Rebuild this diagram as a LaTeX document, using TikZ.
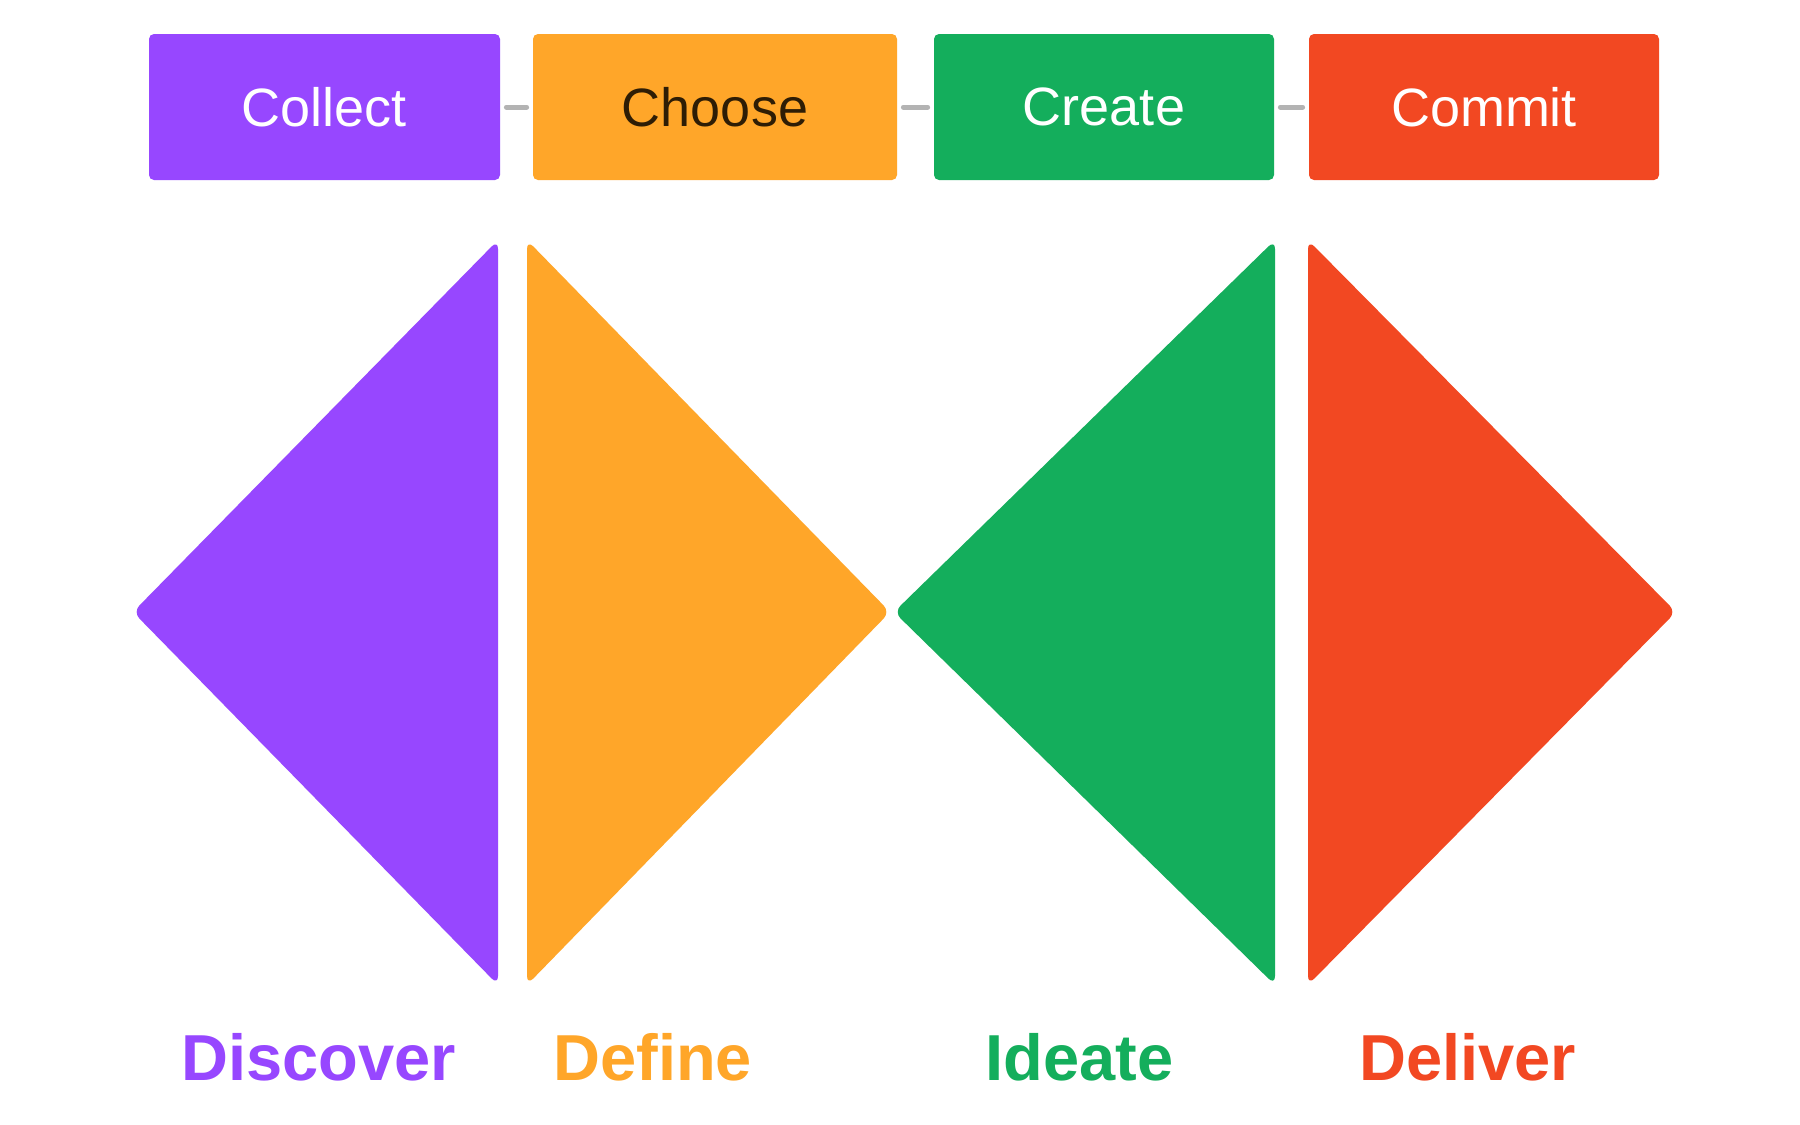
\documentclass[tikz,border=0pt]{standalone}
\usepackage{fontspec}
\setmainfont{Liberation Sans}
\definecolor{cpurple}{HTML}{9747FF}
\definecolor{corange}{HTML}{FFA629}
\definecolor{cgreen}{HTML}{14AE5C}
\definecolor{cred}{HTML}{F24822}
\definecolor{cbrown}{HTML}{2E1D05}
\definecolor{cgray}{HTML}{B3B3B3}
\begin{document}
\begin{tikzpicture}[x=0.5pt,y=-0.5pt,
  phasebox/.style={rectangle, rounded corners=2.5pt, minimum height=73pt, inner sep=0pt,
    font=\fontsize{27}{32}\selectfont},
  link/.style={draw=cgray, line width=2.5pt, line cap=round, shorten <=3pt, shorten >=3pt},
  tri/.style={rounded corners=4.5pt},
  stage/.style={anchor=base west, inner sep=0pt, font=\fontsize{32.5}{39}\selectfont\bfseries}]
\useasboundingbox (0,0) rectangle (1800,1125);
\fill[white] (0,0) rectangle (1800,1125);
% top boxes
\node[phasebox, fill=cpurple, text=white, minimum width=175.5pt] (collect) at (324.5,107) {Collect};
\node[phasebox, fill=corange, text=cbrown, minimum width=182pt] (choose) at (715,107) {Choose};
\node[phasebox, fill=cgreen, text=white, minimum width=170pt] (create) at (1104,107) {Create};
\node[phasebox, fill=cred, text=white, minimum width=175pt] (commit) at (1484,107) {Commit};
\draw[link] (collect.east) -- (choose.west);
\draw[link] (choose.east) -- (create.west);
\draw[link] (create.east) -- (commit.west);
% triangles
\fill[cpurple, tri] (133,612) -- (498,240) -- (498,985) -- cycle;
\fill[corange, tri] (527,240) -- (890,612) -- (527,985) -- cycle;
\fill[cgreen, tri] (894,612) -- (1275,240) -- (1275,985) -- cycle;
\fill[cred, tri] (1308,240) -- (1676,612) -- (1308,985) -- cycle;
% labels
\node[stage, text=cpurple] (discover) at (181,1080) {Discover};
\node[stage, text=corange] (define) at (553,1080) {Define};
\node[stage, text=cgreen] (ideate) at (985,1080) {Ideate};
\node[stage, text=cred] (deliver) at (1359,1080) {Deliver};
\end{tikzpicture}
\end{document}
